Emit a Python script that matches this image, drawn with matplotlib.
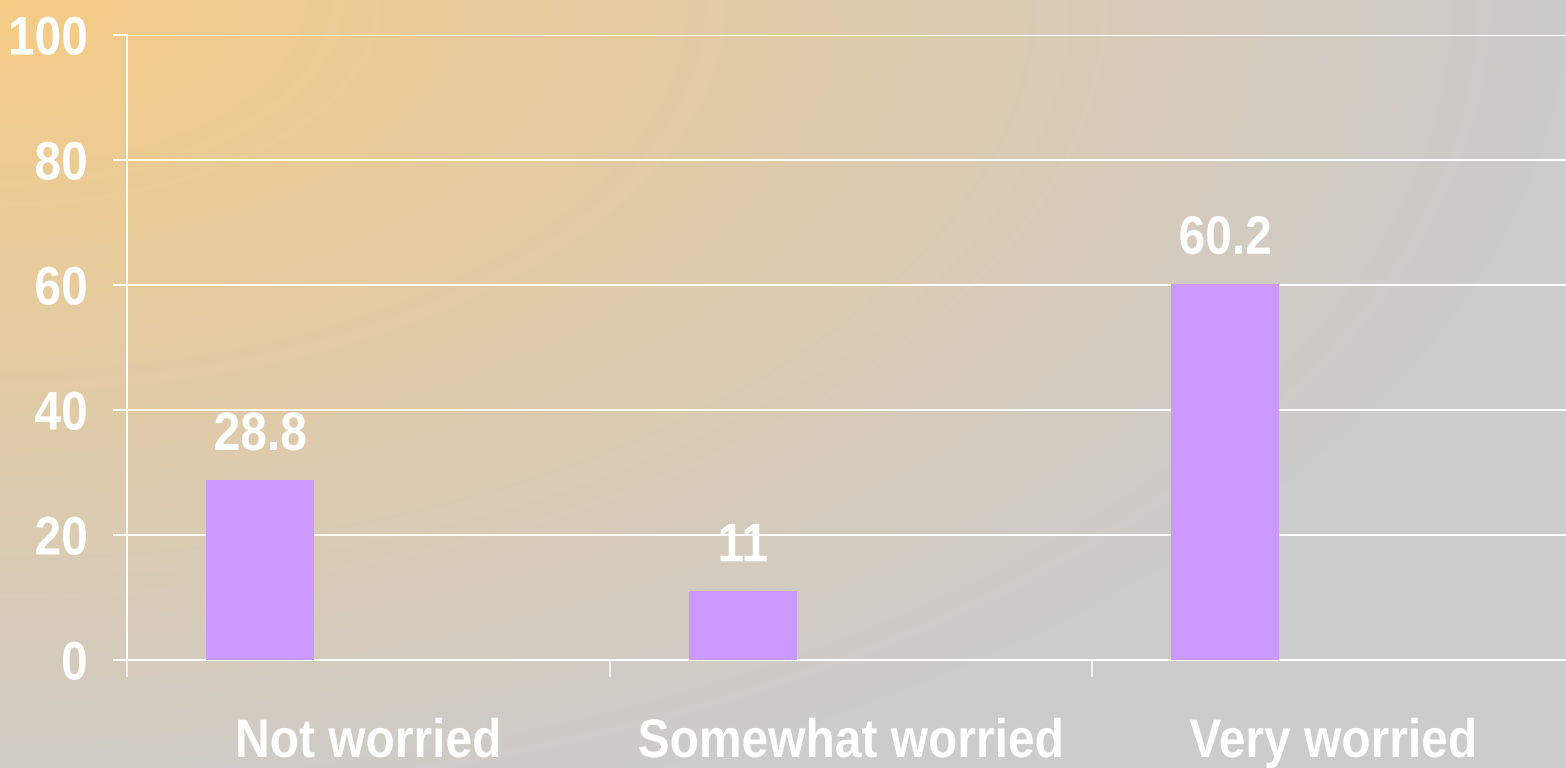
import matplotlib

matplotlib.use("Agg")
import matplotlib.pyplot as plt
import numpy as np
from matplotlib import patheffects
from matplotlib.transforms import Affine2D

categories = ["Not worried", "Somewhat worried", "Very worried"]
values = [28.8, 11, 60.2]
value_labels = ["28.8", "11", "60.2"]
y_ticks = [0, 20, 40, 60, 80, 100]

W, H, DPI = 1566, 768, 100
PT = 72 / DPI  # points per pixel
BAR_COLOR = "#CC99FF"
ORANGE = np.array([245, 203, 133]) / 255
GRAY = np.array([204, 204, 204]) / 255
FONT_SIZE = 39
SQUEEZE = 0.885

plt.rcParams["font.family"] = ["Liberation Sans", "DejaVu Sans"]
plt.rcParams["font.weight"] = "bold"


class Squeeze(patheffects.AbstractPathEffect):
    """Draw text narrower (like a condensed face), pinned at its centre or right edge."""

    def __init__(self, sx, anchor="center"):
        super().__init__()
        self.sx = sx
        self.anchor = anchor

    def draw_path(self, renderer, gc, tpath, affine, rgbFace=None):
        xs = affine.transform(tpath.vertices)[:, 0]
        pivot = xs.max() if self.anchor == "right" else (xs.min() + xs.max()) / 2
        squeeze = Affine2D().translate(-pivot, 0).scale(self.sx, 1).translate(pivot, 0)
        renderer.draw_path(gc, tpath, affine + squeeze, rgbFace)


fig = plt.figure(figsize=(W / DPI, H / DPI), dpi=DPI)

# background: gradient from the top-left corner to grey
bg = fig.add_axes([0, 0, 1, 1])
yy, xx = np.mgrid[0:H, 0:W]
t = np.clip(np.sqrt((xx / W) ** 2 + (yy / (1.1 * H)) ** 2), 0, 1)[..., None]
bg.imshow(ORANGE * (1 - t) + GRAY * t, aspect="auto", interpolation="bilinear")
bg.axis("off")

cat_w = 482.5
ax = fig.add_axes([127 / W, 108 / H, 3 * cat_w / W, 625 / H])
ax.set_facecolor("none")

bar_w = 108 / cat_w
x = np.arange(len(categories)) + 0.5 - bar_w
ax.bar(x, values, width=bar_w, color=BAR_COLOR, zorder=3)

for xi, v, lab in zip(x, values, value_labels):
    ax.annotate(lab, xy=(xi, v), xytext=(0, 30 * PT), textcoords="offset points",
                ha="center", va="baseline", color="white", fontsize=FONT_SIZE,
                path_effects=[Squeeze(SQUEEZE)])

for i, cat in enumerate(categories):
    ax.annotate(cat, xy=(i + 0.5, 0), xycoords=("data", "axes fraction"),
                xytext=(0, -97 * PT), textcoords="offset points",
                ha="center", va="baseline", color="white", fontsize=FONT_SIZE,
                path_effects=[Squeeze(SQUEEZE)])

ax.set_xlim(0, 3)
ax.set_ylim(0, 100)
ax.set_yticks(y_ticks)
ax.set_xticks(np.arange(len(categories) + 1))
ax.set_xticklabels([])
ax.tick_params(axis="y", colors="white", length=14 * PT, width=2 * PT,
               pad=25 * PT, labelsize=FONT_SIZE)
ax.tick_params(axis="x", colors="white", length=17 * PT, width=1.5 * PT)
for lbl in ax.get_yticklabels():
    lbl.set_path_effects([Squeeze(SQUEEZE, anchor="right")])
ax.yaxis.grid(True, color="white", linewidth=2 * PT, zorder=1)
ax.set_axisbelow(True)

for side in ("top", "right"):
    ax.spines[side].set_visible(False)
for side in ("left", "bottom"):
    ax.spines[side].set_color("white")
    ax.spines[side].set_linewidth(2 * PT)

fig.savefig("out.png", dpi=DPI)
